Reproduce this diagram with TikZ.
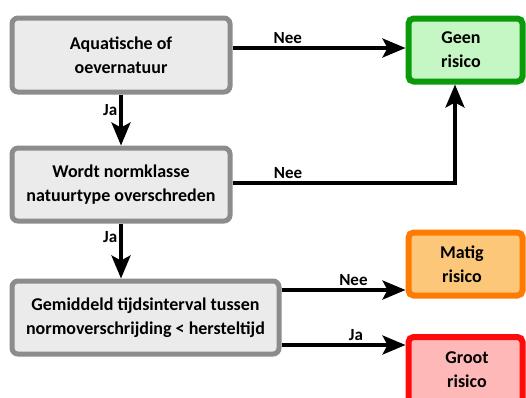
\documentclass[tikz,border=0pt]{standalone}
\usepackage{fontspec}
\setmainfont{Carlito}
\usetikzlibrary{arrows.meta}
\definecolor{gfill}{HTML}{EBEBEB}
\definecolor{gdraw}{HTML}{8C8C8C}
\definecolor{grfill}{HTML}{C4F7C4}
\definecolor{grdraw}{HTML}{0A9A0A}
\definecolor{orfill}{HTML}{FDC77A}
\definecolor{ordraw}{HTML}{FF7A00}
\definecolor{rdfill}{HTML}{FFB8B8}
\definecolor{rddraw}{HTML}{FF0A0A}
\tikzset{
  qbox/.style={draw=gdraw, fill=gfill, line width=5pt, rounded corners=6pt, align=center,
    font=\bfseries\fontsize{18}{24}\selectfont, inner sep=0pt},
  rbox/.style={line width=6pt, rounded corners=5pt, align=center, inner sep=0pt},
  rtxt/.style={font=\bfseries\fontsize{18}{24}\selectfont, align=center, inner sep=0pt},
  conn/.style={line width=3.5pt, -{Stealth[length=23pt,width=19pt,inset=5pt]}},
  lbl/.style={font=\bfseries\fontsize{17}{18}\selectfont, inner sep=0pt}
}
\begin{document}
\begin{tikzpicture}[x=1pt,y=-1pt]
\useasboundingbox (0,0) rectangle (526,397);
\begin{scope}
\clip (0,0) rectangle (526,397);
\node[qbox, minimum width=218pt, minimum height=74pt] (q1) at (121,55) {Aquatische of\\oevernatuur};
\node[qbox, minimum width=218pt, minimum height=73pt] (q2) at (121,184.5) {Wordt normklasse\\natuurtype overschreden};
\node[qbox, minimum width=267pt, minimum height=73pt] (q3) at (145.5,317.5) {Gemiddeld tijdsinterval tussen\\normoverschrijding < hersteltijd};
\node[rbox, draw=grdraw, fill=grfill, minimum width=114pt, minimum height=63pt] (geen) at (465.5,50) {};
\node[rbox, draw=ordraw, fill=orfill, minimum width=114pt, minimum height=63pt] (matig) at (465.5,264) {};
\node[rbox, draw=rddraw, fill=rdfill, minimum width=114pt, minimum height=68pt] (groot) at (465.5,371) {};
\end{scope}
\node[rtxt] (geent) at (461,50) {Geen\\risico};
\node[rtxt] (matigt) at (462,264) {Matig\\risico};
\node[rtxt] (grootm) at (467,370) {Groot\\risico};
\coordinate (c1) at (455,183);
\draw[conn] (q1.east |- 0,48) -- (geen.west |- 0,48) node[lbl, pos=0.32, above=3pt] {Nee};
\draw[conn] (q2.east |- 0,183) -- (c1) node[lbl, pos=0.25, above=3pt] {Nee} -- (geen.south -| c1);
\draw[conn] (q1.south) -- (q2.north) node[lbl, pos=0.3, left=2pt] {Ja};
\draw[conn] (q2.south) -- (q3.north -| q2.south) node[lbl, pos=0.25, left=2pt] {Ja};
\draw[conn] (q3.east |- 0,290) -- (matig.west |- 0,290) node[lbl, pos=0.58, above=3pt] {Nee};
\draw[conn] (q3.east |- 0,345) -- (groot.west |- 0,345) node[lbl, pos=0.6, above=3pt] {Ja};
\end{tikzpicture}
\end{document}
